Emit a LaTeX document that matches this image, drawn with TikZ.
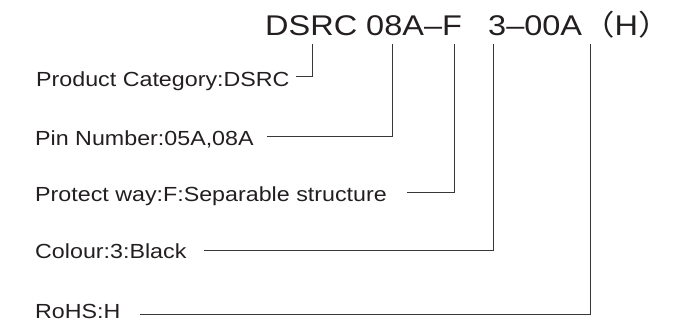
\documentclass[tikz,border=0pt]{standalone}
\usepackage{fontspec}
\setmainfont[FakeStretch=1.14]{Liberation Sans}
\newfontfamily\cjk[FakeStretch=1.14]{Noto Sans CJK SC}
\usetikzlibrary{positioning}
\definecolor{inkText}{RGB}{35,31,32}
\definecolor{inkLine}{RGB}{55,55,55}

\begin{document}
\begin{tikzpicture}[x=1pt, y=-1pt,
    hdr/.style={anchor=base west, inner sep=0pt, text=inkText,
                font=\fontsize{28.5}{34}\selectfont},
    lbl/.style={anchor=base west, inner sep=0pt, text=inkText,
                font=\fontsize{20.4}{24}\selectfont},
    lead/.style={draw=inkLine, line width=0.9pt}]
    \useasboundingbox (0,0) rectangle (694,324);
    % --- part number ---
    \node[hdr] (pnA) at (265,35) {DSRC 08A–F};
    \node[hdr] (pnB) at (488,35) {3–00A{\cjk （}H{\cjk ）}};
    % --- tick points under the part number ---
    \coordinate (tkCat) at (312,44);
    \coordinate (tkPin) at (392,44);
    \coordinate (tkWay) at (454,44);
    \coordinate (tkCol) at (493,44);
    \coordinate (tkRoh) at (590,44);
    % --- field labels ---
    \node[lbl] (catLbl) at (36,86.5)  {Product Category:DSRC};
    \node[lbl] (pinLbl) at (35,145)   {Pin Number:05A,08A};
    \node[lbl] (wayLbl) at (35,201.5) {Protect way:F:Separable structure};
    \node[lbl] (colLbl) at (35,258.5) {Colour:3:Black};
    \node[lbl] (rohLbl) at (35,318)   {RoHS:H};
    % --- free ends of the leaders ---
    \coordinate (endCat) at (296,76);
    \coordinate (endPin) at (267,136.5);
    \coordinate (endWay) at (407,192.7);
    \coordinate (endCol) at (204,250);
    \coordinate (endRoh) at (140,314);
    % --- leaders ---
    \draw[lead] (tkCat) |- (endCat);
    \draw[lead] (tkPin) |- (endPin);
    \draw[lead] (tkWay) |- (endWay);
    \draw[lead] (tkCol) |- (endCol);
    \draw[lead] (tkRoh) |- (endRoh);
\end{tikzpicture}
\end{document}
